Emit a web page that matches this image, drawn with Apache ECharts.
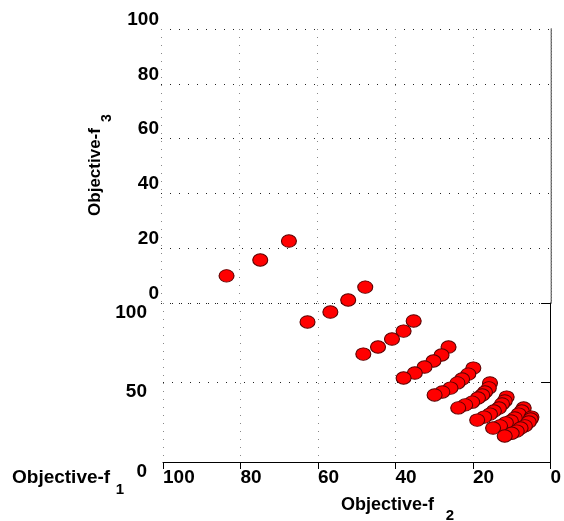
<!DOCTYPE html>
<html>
<head>
<meta charset="utf-8">
<script src="https://cdn.jsdelivr.net/npm/echarts@6/dist/echarts.min.js"></script>
<style>
  html, body { margin: 0; padding: 0; background: #fff; }
  #chart { width: 564px; height: 521px; }
</style>
</head>
<body>
<div id="chart"></div>
<script>
// ---- data ----
// each row of the Pareto front: one f1 level, several (f2, f3) points
const f1Rows = [100, 80, 62, 48, 37, 28, 21, 16, 11];
const f2Rows = [
  [83.6, 74.9, 67.5],
  [62.7, 56.8, 52.2, 47.8],
  [48.3, 44.5, 40.9, 37.9, 35.3],
  [37.9, 35.0, 32.5, 30.2, 28.1, 26.3],
  [29.9, 27.9, 25.8, 24.0, 22.8, 21.2, 19.9],
  [23.8, 22.0, 20.2, 18.7, 17.6, 16.9, 15.9, 15.6],
  [18.9, 17.1, 15.6, 14.6, 13.3, 12.5, 11.8, 11.3],
  [14.8, 13.0, 11.5, 10.2, 9.2, 8.2, 7.4, 6.9],
  [11.8, 10.0, 8.7, 7.7, 6.6, 5.6, 5.1, 4.9]
];
const f3Rows = [
  [9.9, 15.7, 22.6],
  [4.7, 8.3, 12.7, 17.4],
  [3.4, 6.0, 8.9, 11.8, 15.5],
  [2.8, 4.6, 6.8, 9.0, 11.2, 14.1],
  [3.0, 4.1, 5.5, 7.4, 8.8, 10.6, 12.8],
  [3.5, 4.6, 5.6, 7.1, 8.2, 9.3, 10.8, 12.6],
  [3.1, 4.2, 5.3, 6.4, 7.5, 9.0, 10.1, 11.5],
  [3.1, 3.9, 5.0, 5.7, 6.8, 8.2, 9.3, 10.4],
  [3.1, 4.1, 4.9, 6.0, 6.8, 8.2, 9.3, 10.0]
];
const f2Ticks = [0, 20, 40, 60, 80, 100];
const f3Ticks = [0, 20, 40, 60, 80, 100];
const f1Ticks = [0, 50, 100];

// ---- layout of the projected box (wall f3 above, floor f1 below) ----
const WALL_TOP = 29, WALL_H = 274, FLOOR_H = 159;
const K = WALL_H / FLOOR_H; // one unit of f3 drawn in units of the floor (f1) axis

// projected points, plotted on the floor grid (f2 horizontal, f1 depth + f3 height)
const pts = [];
for (let r = 0; r < f1Rows.length; r++) {
  for (let i = f2Rows[r].length - 1; i >= 0; i--) {
    pts.push([f2Rows[r][i], f1Rows[r] + K * f3Rows[r][i]]);
  }
}

const FONT = '"Liberation Sans", Arial, Helvetica, sans-serif';
const lbl = { color: '#000', fontWeight: 'bold', fontSize: 19, fontFamily: FONT };
const dotDark = { color: '#222', width: 1, type: [1, 8] };
const dotGray = { color: '#888', width: 1, type: [1, 7] };

const chart = echarts.init(document.getElementById('chart'), null, { renderer: 'canvas' });
chart.setOption({
  animation: false,
  backgroundColor: '#fff',
  grid: [
    { left: 161, top: WALL_TOP, width: 390, height: WALL_H },
    { left: 163, top: WALL_TOP + WALL_H, width: 391, height: FLOOR_H }
  ],
  xAxis: [
    {
      gridIndex: 0, type: 'value', min: 0, max: 100, interval: 20, inverse: true,
      axisLine: { show: false }, axisTick: { show: false }, axisLabel: { show: false },
      splitLine: { show: true, lineStyle: dotGray }
    },
    {
      gridIndex: 1, type: 'value', min: 0, max: 100, interval: 20, inverse: true,
      axisLine: { show: true, lineStyle: { color: '#000', width: 1 } },
      axisTick: { show: true, length: 7, lineStyle: { color: '#000' } },
      axisLabel: Object.assign({ margin: 6, align: 'left', showMinLabel: true, showMaxLabel: true,
        formatter: v => (f2Ticks.indexOf(v) >= 0 ? String(v) : '') }, lbl),
      splitLine: { show: true, lineStyle: dotGray }
    }
  ],
  yAxis: [
    {
      gridIndex: 0, type: 'value', min: 0, max: 100, interval: 20, position: 'left',
      axisLine: { show: true, lineStyle: { color: '#000', width: 1 } },
      axisTick: { show: false },
      axisLabel: Object.assign({ margin: 2, verticalAlign: 'bottom', showMinLabel: true, showMaxLabel: true,
        formatter: v => (f3Ticks.indexOf(v) >= 0 ? String(v) : '') }, lbl),
      splitLine: { show: true, lineStyle: dotDark }
    },
    {
      gridIndex: 0, type: 'value', min: 0, max: 100, interval: 20, position: 'right',
      axisLine: { show: true, lineStyle: { color: '#aaa', width: 1.5, type: [2, 1] } },
      axisTick: { show: false }, axisLabel: { show: false }, splitLine: { show: false }
    },
    {
      gridIndex: 1, type: 'value', min: 0, max: 100, interval: 50, position: 'left',
      axisLine: { show: true, lineStyle: { color: '#000', width: 1 } },
      axisTick: { show: true, length: 9, lineStyle: { color: '#000' } },
      axisLabel: Object.assign({ margin: 16, verticalAlign: 'top', showMinLabel: true, showMaxLabel: true,
        formatter: v => (f1Ticks.indexOf(v) >= 0 ? String(v) : '') }, lbl),
      splitLine: { show: true, lineStyle: dotDark }
    }
  ],
  series: [{
    type: 'scatter',
    xAxisIndex: 1, yAxisIndex: 2,
    clip: false,
    symbol: 'circle',
    symbolSize: [15, 12.5],
    itemStyle: { color: '#ff0000', borderColor: '#5a0000', borderWidth: 1, opacity: 1 },
    data: pts,
    z: 5
  }],
  graphic: [
    { type: 'text', x: 95, y: 172, rotation: Math.PI / 2,
      style: { text: 'Objective-f', font: 'bold 17px ' + FONT, fill: '#000', align: 'center', verticalAlign: 'middle' } },
    { type: 'text', x: 107.5, y: 118, rotation: Math.PI / 2,
      style: { text: '3', font: 'bold 14px ' + FONT, fill: '#000', align: 'center', verticalAlign: 'middle' } },
    { type: 'text', x: 12, y: 478,
      style: { text: 'Objective-f', font: 'bold 19px ' + FONT, fill: '#000', align: 'left', verticalAlign: 'middle' } },
    { type: 'text', x: 120, y: 490,
      style: { text: '1', font: 'bold 15px ' + FONT, fill: '#000', align: 'center', verticalAlign: 'middle' } },
    { type: 'text', x: 341, y: 505,
      style: { text: 'Objective-f', font: 'bold 18px ' + FONT, fill: '#000', align: 'left', verticalAlign: 'middle' } },
    { type: 'text', x: 450, y: 516,
      style: { text: '2', font: 'bold 15px ' + FONT, fill: '#000', align: 'center', verticalAlign: 'middle' } }
  ]
});
</script>
</body>
</html>
